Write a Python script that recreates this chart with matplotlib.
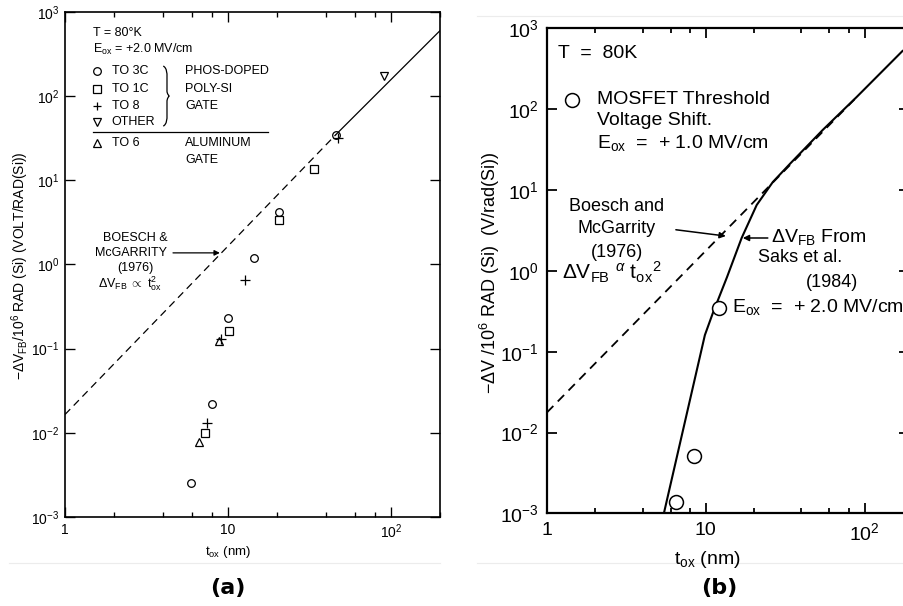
import matplotlib
matplotlib.use("Agg")
import matplotlib.pyplot as plt
from matplotlib.lines import Line2D
from matplotlib.path import Path
from matplotlib.patches import PathPatch
from matplotlib.ticker import LogLocator, NullFormatter, NullLocator

plt.rcParams['font.family'] = ['Liberation Sans', 'DejaVu Sans']
plt.rcParams['mathtext.fontset'] = 'custom'
plt.rcParams['mathtext.rm'] = 'Liberation Sans'
plt.rcParams['mathtext.it'] = 'Liberation Sans:italic'
plt.rcParams['mathtext.bf'] = 'Liberation Sans:bold'

# ---- panel (a): flat-band shift vs oxide thickness, 80 K ----
to3c_x = [5.9, 8.0, 10.0, 14.4, 20.5, 46.0]
to3c_y = [0.0025, 0.022, 0.23, 1.2, 4.2, 34.6]
to1c_x = [7.2, 10.2, 20.5, 33.7]
to1c_y = [0.010, 0.163, 3.4, 13.6]
to8_x = [7.4, 9.1, 12.7, 47.3]
to8_y = [0.013, 0.13, 0.66, 31.6]
other_x = [91.0]
other_y = [174.0]
to6_x = [6.6, 8.8]
to6_y = [0.0078, 0.124]
# Boesch & McGarrity t^2 line: dashed up to 46 nm, solid beyond
bm_a_x = [1.0, 46.0, 200.0]
bm_a_y = [0.0165, 35.0, 600.0]

# ---- panel (b): MOSFET threshold shift and Saks et al. curve ----
mos_x = [6.5, 8.4, 12.1]
mos_y = [0.00137, 0.0051, 0.344]
bm_b_x = [1.0, 87.0]
bm_b_y = [0.0178, 135.0]
saks_x = [5.44, 9.86, 11.07, 13.6, 16.8, 20.9, 26.4, 33.8, 54.4, 89.0, 173.0]
saks_y = [0.001, 0.161, 0.302, 0.843, 2.56, 6.55, 12.6, 21.1, 55.5, 142.0, 527.0]

fig = plt.figure(figsize=(9.04, 6.06), dpi=100)
axa = fig.add_axes([0.0719, 0.1469, 0.4148, 0.8333])
axb = fig.add_axes([0.6051, 0.1527, 0.4004, 0.8003])


def style_axes(ax, xmax, lw, major_len, label_size, pad):
    ax.set_xscale('log')
    ax.set_yscale('log')
    ax.set_xlim(1, xmax)
    ax.set_ylim(1e-3, 1e3)
    ax.set_xticks([1, 10, 100])
    ax.set_xticklabels(['1', '10', r'$\mathregular{10^2}$'])
    ax.xaxis.set_minor_locator(LogLocator(base=10, subs=[2, 4, 6, 8], numticks=10))
    ax.xaxis.set_minor_formatter(NullFormatter())
    ax.yaxis.set_major_locator(LogLocator(base=10, numticks=10))
    ax.yaxis.set_minor_locator(NullLocator())
    ax.yaxis.set_minor_formatter(NullFormatter())
    ax.tick_params(which='both', direction='in', top=True, right=True,
                   width=lw * 0.8, colors='black', labelsize=label_size, pad=pad)
    ax.tick_params(which='major', length=major_len)
    ax.tick_params(which='minor', length=major_len * 0.5)
    for sp in ax.spines.values():
        sp.set_linewidth(lw)


# ================= panel (a) =================
style_axes(axa, 200, 1.2, 7, 10, 4)

axa.plot(bm_a_x[:2], bm_a_y[:2], color='black', lw=0.9, ls=(0, (6, 4)))
axa.plot(bm_a_x[1:], bm_a_y[1:], color='black', lw=0.9)

mk = dict(ls='none', mfc='none', mec='black', mew=0.9, color='black')
axa.plot(to3c_x, to3c_y, marker='o', ms=5.5, **mk)
axa.plot(to1c_x, to1c_y, marker='s', ms=5.5, **mk)
axa.plot(to8_x, to8_y, marker='+', ms=6.5, **mk)
axa.plot(other_x, other_y, marker='v', ms=6, **mk)
axa.plot(to6_x, to6_y, marker='^', ms=6, **mk)

# key block
ta = dict(transform=axa.transAxes, fontsize=9, va='center', ha='left')
axa.text(0.075, 0.958, 'T = 80°K', **ta)
axa.text(0.075, 0.925, r'$\mathregular{E_{ox}}$ = +2.0 MV/cm', **ta)
key_rows = [('o', 'TO 3C', 0.883), ('s', 'TO 1C', 0.848),
            ('+', 'TO 8', 0.814), ('v', 'OTHER', 0.782), ('^', 'TO 6', 0.741)]
for m, lab, yy in key_rows:
    axa.plot([0.085], [yy], marker=m, ms=5.5 if m in 'os' else 6,
             transform=axa.transAxes, clip_on=False, **mk)
    axa.text(0.125, yy, lab, **ta)
axa.text(0.32, 0.883, 'PHOS-DOPED', **ta)
axa.text(0.32, 0.848, 'POLY-SI', **ta)
axa.text(0.32, 0.814, 'GATE', **ta)
axa.text(0.32, 0.741, 'ALUMINUM', **ta)
axa.text(0.32, 0.707, 'GATE', **ta)
axa.plot([0.075, 0.541], [0.762, 0.762], color='black', lw=0.9,
         transform=axa.transAxes)

# curly brace grouping the poly-Si rows
bx, bt, bb, bd = 0.262, 0.893, 0.774, 0.010
bm = (bt + bb) / 2
verts = [(bx, bt), (bx + bd, bt - 0.004), (bx + bd, bt - 0.015), (bx + bd, bt - 0.02),
         (bx + bd, bm + 0.01),
         (bx + bd, bm + 0.004), (bx + 1.6 * bd, bm), (bx + 1.6 * bd, bm),
         (bx + bd, bm - 0.004), (bx + bd, bm - 0.01), (bx + bd, bm - 0.01),
         (bx + bd, bb + 0.02),
         (bx + bd, bb + 0.015), (bx + bd, bb + 0.004), (bx, bb)]
codes = [Path.MOVETO, Path.CURVE4, Path.CURVE4, Path.CURVE4, Path.LINETO,
         Path.CURVE4, Path.CURVE4, Path.CURVE4, Path.CURVE4, Path.CURVE4, Path.CURVE4,
         Path.LINETO, Path.CURVE4, Path.CURVE4, Path.CURVE4]
axa.add_patch(PathPatch(Path(verts, codes), fc='none', ec='black', lw=0.9,
                        transform=axa.transAxes))

tc = dict(transform=axa.transAxes, fontsize=9, va='center', ha='center')
axa.text(0.187, 0.552, 'BOESCH &', **tc)
axa.text(0.175, 0.523, 'McGARRITY', **tc)
axa.text(0.187, 0.493, '(1976)', **tc)
axa.text(0.088, 0.463, r'$\mathregular{\Delta V_{FB}}\ \propto\ \mathregular{t_{ox}^{2}}$',
         transform=axa.transAxes, fontsize=9, va='center', ha='left')
axa.annotate('', xy=(0.413, 0.523), xytext=(0.288, 0.523), xycoords='axes fraction',
             arrowprops=dict(arrowstyle='-|>', color='black', lw=0.9,
                             mutation_scale=8, shrinkA=0, shrinkB=0))

fig.text(0.022, 0.561, r'$\mathregular{-\Delta V_{FB}/10^6}$ RAD (Si) (VOLT/RAD(Si))',
         rotation=90, ha='center', va='center', fontsize=10)
fig.text(0.252, 0.089, r'$\mathregular{t_{ox}}$ (nm)', ha='center', va='center', fontsize=9.5)
fig.text(0.252, 0.030, '(a)', ha='center', va='center', fontsize=16,
         fontweight='bold', family='DejaVu Sans')

# ================= panel (b) =================
style_axes(axb, 190, 1.6, 7.5, 14, 6)

axb.plot(bm_b_x, bm_b_y, color='black', lw=1.3, ls=(0, (5, 3.5)))
axb.plot(saks_x, saks_y, color='black', lw=1.5)
axb.plot(mos_x, mos_y, ls='none', marker='o', ms=10, mfc='white', mec='black', mew=1.1)

tb = dict(transform=axb.transAxes, fontsize=14, va='center', ha='left')
axb.text(0.030, 0.949, 'T  =  80K', **tb)
axb.plot([0.069], [0.853], marker='o', ms=10, mfc='white', mec='black', mew=1.1,
         transform=axb.transAxes, clip_on=False)
axb.text(0.138, 0.853, 'MOSFET Threshold', **tb)
axb.text(0.138, 0.811, 'Voltage Shift.', **tb)
axb.text(0.138, 0.764, r'$\mathregular{E_{ox}}$  =  + 1.0 MV/cm', **tb)

tbc = dict(transform=axb.transAxes, fontsize=13, va='center', ha='center')
axb.text(0.193, 0.632, 'Boesch and', **tbc)
axb.text(0.193, 0.587, 'McGarrity', **tbc)
axb.text(0.193, 0.539, '(1976)', **tbc)
axb.text(0.041, 0.498,
         r'$\mathregular{\Delta V_{FB}}\ ^{\alpha}\ \mathregular{t_{ox}{}^{2}}$',
         transform=axb.transAxes, fontsize=15, va='center', ha='left')
axb.annotate('', xy=(0.494, 0.572), xytext=(0.356, 0.585), xycoords='axes fraction',
             arrowprops=dict(arrowstyle='-|>', color='black', lw=1.1,
                             mutation_scale=9, shrinkA=0, shrinkB=0))
axb.annotate('', xy=(0.541, 0.568), xytext=(0.610, 0.568), xycoords='axes fraction',
             arrowprops=dict(arrowstyle='-|>', color='black', lw=1.1,
                             mutation_scale=9, shrinkA=0, shrinkB=0))
axb.text(0.619, 0.570, r'$\mathregular{\Delta V_{FB}}$ From', **tb)
axb.text(0.583, 0.527, 'Saks et al.', transform=axb.transAxes, fontsize=13,
         va='center', ha='left')
axb.text(0.787, 0.477, '(1984)', **tbc)
axb.text(0.511, 0.426, r'$\mathregular{E_{ox}}$  =  + 2.0 MV/cm', **tb)

fig.text(0.542, 0.55, r'$\mathregular{-\Delta V\ /10^6}$ RAD (Si)  (V/rad(Si))',
         rotation=90, ha='center', va='center', fontsize=13)
fig.text(0.783, 0.076, r'$\mathregular{t_{ox}}$ (nm)', ha='center', va='center', fontsize=14)
fig.text(0.796, 0.030, '(b)', ha='center', va='center', fontsize=16,
         fontweight='bold', family='DejaVu Sans')

# faint scan borders
for x0, x1, yy in [(0.01, 0.487, 0.071), (0.528, 1.0, 0.071), (0.528, 1.0, 0.974)]:
    fig.add_artist(Line2D([x0, x1], [yy, yy], color='#ececec', lw=0.8))

fig.savefig('out.png', dpi=100)
